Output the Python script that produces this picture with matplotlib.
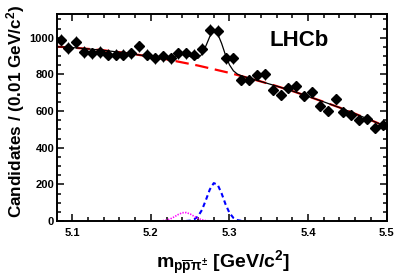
import numpy as np
import matplotlib
matplotlib.use("Agg")
import matplotlib.pyplot as plt
from matplotlib.ticker import MultipleLocator

plt.rcParams['font.family'] = ['Liberation Sans', 'DejaVu Sans']
plt.rcParams['font.weight'] = 'bold'
plt.rcParams['mathtext.fontset'] = 'custom'
plt.rcParams['mathtext.rm'] = 'Liberation Sans:bold'
plt.rcParams['mathtext.bf'] = 'Liberation Sans:bold'
plt.rcParams['mathtext.it'] = 'Liberation Sans:bold'

# data points (bin centres, candidates per 0.01 GeV/c^2)
mass = [5.085, 5.095, 5.105, 5.115, 5.125, 5.135, 5.145, 5.155, 5.165, 5.175,
        5.185, 5.195, 5.205, 5.215, 5.225, 5.235, 5.245, 5.255, 5.265, 5.275,
        5.285, 5.295, 5.305, 5.315, 5.325, 5.335, 5.345, 5.355, 5.365, 5.375,
        5.385, 5.395, 5.405, 5.415, 5.425, 5.435, 5.445, 5.455, 5.465, 5.475,
        5.485, 5.495]
counts = [989, 944, 977, 922, 916, 922, 907, 907, 907, 916,
          952, 907, 889, 900, 889, 916, 916, 907, 938, 1044,
          1035, 889, 889, 770, 770, 798, 800, 716, 689, 725,
          739, 680, 703, 625, 601, 665, 597, 579, 552, 557,
          507, 525]

# combinatorial background (red dashed)
bkg_x = [5.08, 5.10, 5.12, 5.14, 5.16, 5.18, 5.20, 5.22, 5.24, 5.26, 5.28,
         5.30, 5.32, 5.34, 5.36, 5.38, 5.40, 5.42, 5.44, 5.46, 5.48, 5.50]
bkg_y = [951, 946, 939, 931, 921, 909, 896, 882, 865, 848, 828,
         808, 785, 761, 736, 709, 680, 650, 619, 585, 550, 514]

# total fit (black solid)
tot_x = [5.08, 5.10, 5.12, 5.14, 5.16, 5.18, 5.200, 5.205, 5.210, 5.215,
         5.220, 5.225, 5.230, 5.235, 5.240, 5.245, 5.250, 5.255, 5.260, 5.265,
         5.270, 5.275, 5.280, 5.285, 5.290, 5.295, 5.300, 5.305, 5.310, 5.315,
         5.320, 5.325, 5.330, 5.34, 5.36, 5.38, 5.40, 5.42, 5.44, 5.46,
         5.48, 5.50]
tot_y = [951, 946, 939, 931, 921, 909, 896.1, 892.7, 889.5, 887.1,
         886.8, 889.9, 897.0, 905.7, 910.8, 907.8, 897.4, 886.8, 887.6, 910.2,
         955.2, 1006.6, 1035.5, 1021.1, 968.7, 904.4, 851.9, 819.3, 801.8, 792.3,
         785.6, 779.4, 773.5, 761, 736, 709, 680, 650, 619, 585,
         550, 514]

# signal component (blue dashed)
sig_x = [5.245, 5.250, 5.255, 5.260, 5.265, 5.270, 5.275, 5.280, 5.285,
         5.290, 5.295, 5.300, 5.305, 5.310, 5.315, 5.320]
sig_y = [0.5, 2.3, 8.7, 25.7, 60.8, 114.7, 172.5, 206.9, 197.7,
         150.5, 91.4, 44.3, 17.1, 5.2, 1.3, 0.3]

# partially reconstructed component (magenta dotted)
prc_x = [5.205, 5.210, 5.215, 5.220, 5.225, 5.230, 5.235, 5.240, 5.245,
         5.250, 5.255, 5.260, 5.265, 5.270, 5.275, 5.280]
prc_y = [0.1, 0.5, 1.8, 5.3, 12.3, 23.4, 36.1, 45.3, 46.2,
         38.4, 25.9, 14.2, 6.4, 2.3, 0.7, 0.2]

fig = plt.figure(figsize=(4.07, 2.77), dpi=100)
ax = fig.add_axes([0.140, 0.202, 0.810, 0.748])

ax.plot(bkg_x, bkg_y, color='red', lw=1.6, dashes=(6, 3), zorder=2)
ax.plot(sig_x, sig_y, color='blue', lw=1.5, dashes=(2.2, 1.6), zorder=2)
ax.plot(prc_x, prc_y, color='magenta', lw=1.2, dashes=(0.8, 0.8), zorder=2)
ax.plot(tot_x, tot_y, color='black', lw=0.9, zorder=3)
ax.errorbar(mass, counts, yerr=np.sqrt(counts), xerr=0.005, fmt='D',
            color='black', ms=5, elinewidth=0.8, capsize=0, zorder=4)

ax.set_xlim(5.0805, 5.5)
ax.set_ylim(0, 1130)
ax.xaxis.set_major_locator(MultipleLocator(0.1))
ax.xaxis.set_minor_locator(MultipleLocator(0.02))
ax.yaxis.set_major_locator(MultipleLocator(200))
ax.yaxis.set_minor_locator(MultipleLocator(50))
ax.tick_params(which='both', direction='in', top=True, right=True,
               width=1.1, labelsize=8)
ax.tick_params(which='major', length=5)
ax.tick_params(which='minor', length=3)
ax.tick_params(axis='x', pad=5)
ax.tick_params(axis='y', pad=2)
for lab in ax.get_xticklabels() + ax.get_yticklabels():
    lab.set_fontweight('bold')
for sp in ax.spines.values():
    sp.set_linewidth(1.4)

ax.text(0.734, 0.87, 'LHCb', transform=ax.transAxes, fontsize=16,
        fontweight='bold', ha='center', va='center')

fig.text(0.037, 0.597, r'Candidates / (0.01 GeV/c$^{2}$)', rotation=90,
         fontsize=12.3, fontweight='bold', ha='center', va='center')
fig.text(0.383, 0.05, r'm$_{\mathregular{p\overline{p}}\pi^{\pm}}$ [GeV/c$^{2}$]',
         fontsize=14, fontweight='bold', ha='left', va='center')

fig.savefig('out.png', dpi=100)
